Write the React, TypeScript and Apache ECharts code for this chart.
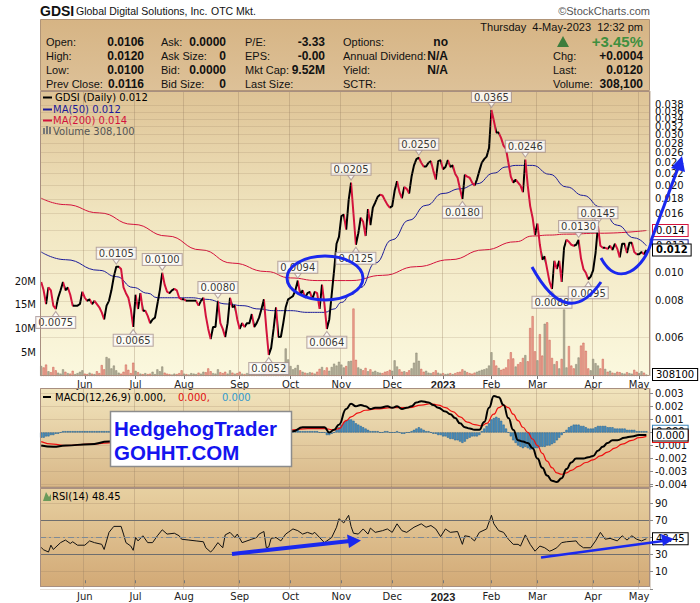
import React, { useEffect, useRef } from 'react';
import * as echarts from 'echarts';

// ---------- DATA ----------
const HOLIDAYS = ['2022-05-30', '2022-06-20', '2022-07-04', '2022-09-05', '2022-11-24', '2022-12-26', '2023-01-02', '2023-01-16', '2023-02-20', '2023-04-07'];
const MONTHS = ['Jan', 'Feb', 'Mar', 'Apr', 'May', 'Jun', 'Jul', 'Aug', 'Sep', 'Oct', 'Nov', 'Dec'];

const price = [
  0.0093, 0.0087, 0.0078, 0.0089, 0.0087, 0.0077, 0.0075, 0.0082, 0.0087, 0.0093,
  0.0087, 0.0089, 0.0084, 0.0077, 0.0077, 0.0077, 0.0078, 0.0086, 0.0082, 0.0080,
  0.0081, 0.0078, 0.0080, 0.0078, 0.0076, 0.0073, 0.0069, 0.0077, 0.0080, 0.0087,
  0.0097, 0.0105, 0.0105, 0.0103, 0.0089, 0.0085, 0.0082, 0.0075, 0.0065, 0.0084,
  0.0075, 0.0085, 0.0074, 0.0074, 0.0071, 0.0067, 0.0069, 0.0070, 0.0078, 0.0087,
  0.0100, 0.0091, 0.0086, 0.0085, 0.0087, 0.0088, 0.0087, 0.0082, 0.0081, 0.0081,
  0.0080, 0.0080, 0.0080, 0.0080, 0.0080, 0.0077, 0.0080, 0.0082, 0.0071, 0.0064,
  0.0059, 0.0065, 0.0065, 0.0080, 0.0067, 0.0064, 0.0060, 0.0067, 0.0082, 0.0076,
  0.0077, 0.0069, 0.0064, 0.0067, 0.0065, 0.0067, 0.0067, 0.0072, 0.0065, 0.0067,
  0.0070, 0.0075, 0.0081, 0.0064, 0.0052, 0.0055, 0.0064, 0.0076, 0.0060, 0.0060,
  0.0067, 0.0076, 0.0081, 0.0082, 0.0083, 0.0087, 0.0094, 0.0084, 0.0087, 0.0082,
  0.0085, 0.0086, 0.0081, 0.0086, 0.0085, 0.0075, 0.0091, 0.0078, 0.0064, 0.0069,
  0.0084, 0.0102, 0.0126, 0.0133, 0.0157, 0.0159, 0.0141, 0.0178, 0.0205, 0.0160,
  0.0125, 0.0137, 0.0155, 0.0150, 0.0134, 0.0166, 0.0146, 0.0168, 0.0175, 0.0183,
  0.0186, 0.0185, 0.0178, 0.0172, 0.0168, 0.0170, 0.0192, 0.0207, 0.0190, 0.0181,
  0.0198, 0.0195, 0.0188, 0.0215, 0.0235, 0.0247, 0.0250, 0.0240, 0.0233, 0.0233,
  0.0240, 0.0243, 0.0225, 0.0210, 0.0243, 0.0245, 0.0228, 0.0232, 0.0245, 0.0232,
  0.0235, 0.0220, 0.0213, 0.0195, 0.0180, 0.0218, 0.0215, 0.0213, 0.0205, 0.0200,
  0.0210, 0.0225, 0.0240, 0.0247, 0.0252, 0.0270, 0.0365, 0.0335, 0.0305, 0.0305,
  0.0292, 0.0275, 0.0268, 0.0240, 0.0215, 0.0205, 0.0210, 0.0205, 0.0200, 0.0190,
  0.0246, 0.0200, 0.0170, 0.0155, 0.0135, 0.0148, 0.0125, 0.0111, 0.0114, 0.0103,
  0.0093, 0.0088, 0.0110, 0.0103, 0.0110, 0.0093, 0.0122, 0.0130, 0.0128, 0.0125,
  0.0124, 0.0125, 0.0130, 0.0112, 0.0103, 0.0100, 0.0095, 0.0097, 0.0102, 0.0117,
  0.0145, 0.0124, 0.0122, 0.0122, 0.0121, 0.0124, 0.0120, 0.0126, 0.0121, 0.0113,
  0.0126, 0.0126, 0.0117, 0.0127, 0.0127, 0.0118, 0.0116, 0.0116, 0.0118, 0.0116, 0.0120,
];

// volume in millions of shares
const volumeM = [
  2.1, 1.8, 2.4, 1.0, 0.8, 1.9, 1.2, 0.7, 0.5, 1.4,
  0.9, 0.6, 0.5, 1.1, 0.4, 0.6, 0.9, 1.2, 0.5, 0.4,
  0.7, 0.5, 0.4, 1.0, 0.6, 2.3, 1.4, 4.0, 3.7, 1.6,
  2.2, 1.2, 0.7, 0.5, 0.9, 2.4, 1.3, 0.6, 2.8, 1.1,
  0.8, 0.5, 0.4, 0.6, 0.4, 0.5, 0.9, 0.4, 1.4, 1.0,
  2.0, 0.7, 0.5, 0.4, 0.3, 0.5, 0.4, 0.6, 1.2, 0.5,
  0.4, 0.3, 0.6, 0.5, 0.4, 0.7, 0.5, 0.9, 0.8, 1.6,
  1.0, 0.6, 0.5, 1.4, 0.8, 0.6, 0.9, 0.5, 1.2, 0.7,
  0.5, 0.6, 0.9, 0.5, 0.4, 0.6, 0.5, 1.0, 0.5, 0.4,
  0.6, 0.8, 1.5, 1.0, 1.9, 1.2, 0.8, 1.6, 0.9, 0.7,
  1.1, 5.8, 3.5, 2.1, 1.4, 1.7, 2.3, 1.2, 0.9, 0.7,
  0.6, 0.8, 0.7, 0.5, 0.9, 1.5, 1.9, 1.2, 1.8, 1.1,
  1.9, 2.6, 2.2, 3.0, 2.4, 1.8, 2.1, 3.1, 3.2, 14.2,
  3.4, 1.8, 1.5, 1.2, 1.7, 1.0, 1.4, 0.9, 1.1, 0.8,
  0.7, 0.6, 0.9, 1.0, 1.3, 1.1, 3.3, 2.0, 1.4, 0.9,
  1.0, 0.8, 1.2, 1.6, 2.8, 4.9, 3.2, 1.5, 0.9, 1.1,
  0.7, 0.6, 0.8, 1.2, 0.7, 0.5, 0.6, 0.4, 0.5, 0.6,
  0.4, 0.6, 0.8, 0.9, 1.4, 1.1, 0.8, 0.6, 0.5, 0.7,
  0.9, 1.1, 1.3, 1.4, 1.6, 2.2, 5.0, 3.3, 2.2, 1.7,
  1.3, 1.5, 1.8, 3.5, 5.0, 3.7, 2.0, 2.5, 2.9, 3.8,
  4.4, 3.1, 10.1, 12.6, 5.2, 3.3, 8.8, 4.3, 11.0, 11.3,
  7.6, 3.8, 2.5, 3.1, 1.6, 3.6, 14.0, 1.8, 6.3, 2.2,
  1.6, 2.5, 3.9, 6.4, 7.0, 5.3, 1.6, 1.2, 3.6, 2.7,
  2.2, 1.6, 3.6, 1.5, 0.9, 1.1, 0.7, 0.6, 0.9, 0.8,
  0.6, 0.5, 0.8, 0.6, 0.5, 1.3, 0.9, 0.6, 1.0, 0.7, 0.3081,
];

// moving averages, read at [trading-day index, value]
const ma50 = [
  [0, 0.0118], [10, 0.0111], [24, 0.0102], [31, 0.0097], [38, 0.0089], [44, 0.0085], [48, 0.0082],
  [55, 0.0082], [62, 0.0082], [68, 0.0081], [77, 0.0078], [83, 0.0077], [90, 0.0075], [96, 0.0074],
  [103, 0.0074], [110, 0.0073], [117, 0.0073], [121, 0.0075], [124, 0.0079], [128, 0.0084],
  [132, 0.0089], [138, 0.0108], [145, 0.0130], [152, 0.0152], [159, 0.0171], [166, 0.0188],
  [173, 0.0195], [180, 0.0203], [187, 0.0221], [192, 0.0232], [196, 0.0235], [203, 0.0235],
  [210, 0.0219], [217, 0.0198], [224, 0.0185], [231, 0.0169], [238, 0.0146], [245, 0.0132], [250, 0.0124],
];
const ma200 = [
  [0, 0.0181], [10, 0.0172], [24, 0.0161], [38, 0.0147], [52, 0.0134], [66, 0.0120], [79, 0.0108],
  [93, 0.0101], [103, 0.0096], [114, 0.0094], [128, 0.0094], [141, 0.0098], [155, 0.0105],
  [169, 0.0111], [183, 0.0120], [196, 0.0128], [203, 0.0134], [210, 0.0135], [217, 0.0136],
  [231, 0.0137], [250, 0.0140],
];

const macdLine = [
  [0, -0.0010], [5, -0.0011], [10, -0.0010], [20, -0.0009], [28, -0.0007], [40, -0.0002], [55, 0.0001],
  [70, -0.0002], [85, -0.0001], [95, -0.0003], [104, 0.0001], [108, 0.0004], [113, 0.0004], [117, 0.0004],
  [119, 0.0000], [121, 0.0002], [123, 0.0006], [126, 0.0018], [128, 0.0022], [130, 0.0020], [132, 0.0021],
  [134, 0.0020], [136, 0.0018], [138, 0.0019], [140, 0.0019], [143, 0.0020], [145, 0.0019], [147, 0.0020],
  [149, 0.0018], [151, 0.0019], [153, 0.0020], [155, 0.0023], [157, 0.0024], [160, 0.0023], [162, 0.0021],
  [164, 0.0019], [167, 0.0016], [169, 0.0014], [171, 0.0011], [173, 0.0007], [175, 0.0004], [177, 0.0003],
  [179, 0.0002], [181, 0.0002], [183, 0.0008], [185, 0.0019], [187, 0.0028], [189, 0.0027], [191, 0.0021],
  [193, 0.0011], [195, 0.0002], [197, -0.0006], [199, -0.0007], [201, -0.0008], [203, -0.0012],
  [205, -0.0020], [207, -0.0027], [209, -0.0033], [211, -0.0037], [213, -0.0038], [215, -0.0035],
  [217, -0.0028], [219, -0.0023], [221, -0.0020], [224, -0.0020], [226, -0.0019], [228, -0.0018],
  [230, -0.0014], [232, -0.0011], [234, -0.0008], [236, -0.0006], [238, -0.0006], [241, -0.0004],
  [244, -0.0003], [247, -0.0002], [250, -0.0002],
];
const signalLine = [
  [0, -0.0007], [5, -0.0009], [10, -0.0010], [20, -0.0009], [28, -0.0008], [40, -0.0004], [55, 0.0000],
  [70, -0.0001], [85, -0.0001], [95, -0.0002], [104, 0.0002], [110, 0.0003], [117, 0.0003], [121, 0.0002],
  [123, 0.0003], [126, 0.0009], [128, 0.0012], [131, 0.0015], [134, 0.0017], [138, 0.0018], [145, 0.0019],
  [152, 0.0019], [157, 0.0021], [161, 0.0022], [164, 0.0021], [167, 0.0019], [170, 0.0016], [173, 0.0012],
  [176, 0.0008], [179, 0.0006], [182, 0.0005], [184, 0.0007], [187, 0.0014], [189, 0.0019], [191, 0.0021],
  [193, 0.0019], [195, 0.0014], [197, 0.0009], [199, 0.0004], [201, 0.0000], [203, -0.0005], [205, -0.0010],
  [207, -0.0016], [209, -0.0022], [211, -0.0027], [213, -0.0031], [215, -0.0032], [217, -0.0031],
  [219, -0.0029], [222, -0.0026], [225, -0.0023], [228, -0.0021], [231, -0.0018], [234, -0.0015],
  [237, -0.0012], [240, -0.0009], [244, -0.0006], [247, -0.0004], [250, -0.0003],
];
const macdHist = [
  -0.0004, -0.0004, -0.0003, -0.0003, -0.0002, -0.0002, -0.0001, -0.0001, 0.0000, 0.0001,
  0.0001, 0.0001, 0.0001, 0.0001, 0.0001, 0.0001, 0.0001, 0.0001, 0.0001, 0.0001,
  0.0001, 0.0001, 0.0001, 0.0001, 0.0001, 0.0001, 0.0001, 0.0001, 0.0001, 0.0001,
  0.0002, 0.0003, 0.0003, 0.0002, 0.0001, 0.0001, 0.0000, -0.0001, -0.0002, -0.0001,
  0.0000, 0.0000, -0.0001, -0.0001, 0.0000, 0.0001, 0.0001, 0.0002, 0.0002, 0.0003,
  0.0003, 0.0003, 0.0002, 0.0001, 0.0001, 0.0000, 0.0000, 0.0000, -0.0001, -0.0001,
  -0.0001, -0.0001, -0.0001, -0.0001, -0.0001, -0.0001, -0.0001, -0.0001, -0.0002, -0.0002,
  -0.0002, -0.0002, -0.0001, -0.0001, -0.0001, -0.0001, -0.0001, 0.0000, 0.0000, 0.0000,
  0.0000, -0.0001, -0.0001, -0.0001, -0.0001, 0.0000, 0.0000, 0.0000, 0.0000, 0.0000,
  0.0000, 0.0000, 0.0000, -0.0001, -0.0002, -0.0002, -0.0001, -0.0001, -0.0001, 0.0000,
  0.0000, 0.0001, 0.0001, 0.0001, 0.0001, 0.0001, 0.0002, 0.0001, 0.0001, 0.0001,
  0.0001, 0.0001, 0.0001, 0.0001, 0.0001, 0.0000, 0.0000, 0.0000, -0.0002, -0.0002,
  -0.0001, 0.0000, 0.0002, 0.0004, 0.0006, 0.0008, 0.0009, 0.0010, 0.0010, 0.0009,
  0.0007, 0.0006, 0.0005, 0.0004, 0.0003, 0.0002, 0.0001, 0.0001, 0.0001, 0.0001,
  0.0000, 0.0000, 0.0001, 0.0001, 0.0000, 0.0000, 0.0000, 0.0001, 0.0000, -0.0001,
  -0.0001, 0.0000, 0.0000, 0.0001, 0.0002, 0.0003, 0.0004, 0.0003, 0.0002, 0.0001,
  0.0001, 0.0000, -0.0001, -0.0001, -0.0002, -0.0002, -0.0003, -0.0003, -0.0004, -0.0005,
  -0.0005, -0.0006, -0.0006, -0.0007, -0.0008, -0.0007, -0.0005, -0.0004, -0.0003, -0.0003,
  -0.0003, -0.0002, 0.0001, 0.0003, 0.0005, 0.0007, 0.0010, 0.0011, 0.0012, 0.0011,
  0.0009, 0.0006, 0.0003, 0.0000, -0.0003, -0.0006, -0.0008, -0.0010, -0.0011, -0.0012,
  -0.0011, -0.0012, -0.0013, -0.0013, -0.0012, -0.0012, -0.0011, -0.0011, -0.0011, -0.0010,
  -0.0010, -0.0009, -0.0008, -0.0006, -0.0004, -0.0002, 0.0000, 0.0002, 0.0004, 0.0005,
  0.0006, 0.0006, 0.0006, 0.0005, 0.0005, 0.0004, 0.0003, 0.0003, 0.0003, 0.0004,
  0.0005, 0.0005, 0.0005, 0.0005, 0.0004, 0.0004, 0.0004, 0.0003, 0.0003, 0.0003,
  0.0003, 0.0003, 0.0002, 0.0002, 0.0002, 0.0002, 0.0001, 0.0001, 0.0001, 0.0001, 0.0001,
];

const rsi = [
  [0, 38.3], [1, 35.6], [3, 33], [4, 41], [5, 36], [8, 44], [10, 47], [12, 43], [13, 45], [15, 41],
  [18, 41], [20, 46], [22, 44], [25, 42], [26, 36], [28, 56], [30, 63], [33, 63], [34, 54], [35, 44],
  [37, 40], [38, 35], [39, 50], [40, 46], [42, 52], [44, 44], [46, 44], [48, 52], [50, 59], [52, 54],
  [55, 55], [57, 52], [58, 48], [61, 47], [64, 46], [67, 45], [68, 38], [70, 33], [71, 36], [73, 44],
  [75, 38], [76, 53], [78, 56], [80, 50], [81, 54], [83, 44], [85, 46], [87, 48], [89, 50], [90, 54],
  [92, 57], [93, 38], [94, 39], [95, 49], [97, 50], [99, 46], [101, 54], [102, 56], [104, 60], [106, 58],
  [108, 54], [110, 56], [112, 54], [113, 56], [115, 50], [117, 44], [118, 46], [120, 50], [122, 62],
  [123, 72], [125, 67], [127, 76], [128, 63], [129, 55], [131, 54], [133, 60], [135, 54], [136, 61],
  [138, 56], [141, 58], [143, 60], [145, 56], [147, 66], [149, 58], [151, 56], [154, 62], [157, 66],
  [159, 62], [161, 64], [163, 60], [165, 51], [167, 60], [169, 56], [172, 57], [174, 42], [175, 52],
  [177, 51], [179, 46], [181, 56], [184, 60], [186, 76], [187, 66], [189, 58], [191, 56], [193, 48],
  [195, 42], [197, 42], [198, 40], [200, 53], [202, 42], [204, 34], [206, 40], [208, 38], [210, 34],
  [211, 35], [213, 38], [215, 44], [217, 45], [221, 46], [222, 42], [224, 38], [227, 38], [229, 46],
  [231, 56], [233, 48], [235, 49], [238, 46], [240, 52], [242, 47], [244, 52], [246, 48], [248, 46], [250, 48.45],
];

// price-axis tick labels (0.014 and 0.012 are covered by the value tags)
const priceTicks = [0.038, 0.036, 0.034, 0.032, 0.030, 0.028, 0.026, 0.024, 0.022, 0.020, 0.018, 0.016, 0.014, 0.012, 0.010, 0.008, 0.006];
const hiddenTickLabels = [0.014, 0.012];
const peakIdx = [31, 50, 73, 106, 128, 156, 186, 200, 222, 230];
const troughIdx = [6, 38, 94, 118, 130, 174, 211, 226];

const headerRows = [
  [['Open:', '0.0106'], ['Ask:', '0.0000'], ['P/E:', '-3.33'], ['Options:', 'no'], ['', '']],
  [['High:', '0.0120'], ['Ask Size:', '0'], ['EPS:', '-0.00'], ['Annual Dividend:', 'N/A'], ['Chg:', '+0.0004']],
  [['Low:', '0.0100'], ['Bid:', '0.0000'], ['Mkt Cap:', '9.52M'], ['Yield:', 'N/A'], ['Last:', '0.0120']],
  [['Prev Close:', '0.0116'], ['Bid Size:', '0'], ['Last Size:', ''], ['SCTR:', ''], ['Volume:', '308,100']],
];

// ---------- helpers ----------
function buildDates() {
  const out: string[] = [];
  const d = new Date(Date.UTC(2022, 4, 5));
  const end = Date.UTC(2023, 4, 4);
  while (d.getTime() <= end) {
    const dow = d.getUTCDay();
    const s = d.toISOString().slice(0, 10);
    if (dow !== 0 && dow !== 6 && HOLIDAYS.indexOf(s) < 0) out.push(s);
    d.setUTCDate(d.getUTCDate() + 1);
  }
  return out;
}

const FONT = '"DejaVu Sans", Verdana, sans-serif';
const HFONT = '"Liberation Sans", Arial, sans-serif';
const BLUE = '#1a28ee';
const CLEAR = 'rgba(0,0,0,0)';

export default function App() {
  const ref = useRef<HTMLDivElement>(null);
  useEffect(() => {
    if (!ref.current) return;
    const chart = echarts.init(ref.current, null, { renderer: 'svg' });
    const dates = buildDates();
    const cats = dates.concat(['']);
    const isMonthStart = (i: number) =>
      i > 0 && !!cats[i] && !!cats[i - 1] && cats[i].slice(5, 7) !== cats[i - 1].slice(5, 7);
    const monthLabel = (v: string) => {
      if (!v) return '';
      const m = +v.slice(5, 7);
      return m === 1 ? '{y|' + v.slice(0, 4) + '}' : MONTHS[m - 1];
    };
    const last = price.length - 1;
    const up = (i: number) => i === 0 || price[i] >= price[i - 1];

    const pieces: any[] = [];
    for (let i = 1; i < price.length; i++) {
      pieces.push({ gt: i - 1, lte: i, color: up(i) ? '#000000' : '#d3123c' });
    }

    const gridLine = 'rgba(150,125,95,0.32)';
    const xBase = (gi: number, showLabel: boolean) => ({
      type: 'category',
      gridIndex: gi,
      data: cats,
      boundaryGap: true,
      axisLine: { show: false },
      axisTick: { show: showLabel, alignWithLabel: true, interval: (i: number) => isMonthStart(i), length: 3, lineStyle: { color: '#777' } },
      axisLabel: {
        show: showLabel,
        interval: (i: number) => isMonthStart(i),
        formatter: monthLabel,
        fontFamily: FONT,
        fontSize: 10,
        color: '#222',
        margin: 3,
        rich: { y: { fontWeight: 'bold', fontSize: 11, fontFamily: HFONT, color: '#222' } },
      },
      splitLine: { show: true, interval: (i: number) => isMonthStart(i), lineStyle: { color: gridLine, width: 1 } },
    });

    const tagLabel = (border: string, bold = false) => ({
      show: true,
      position: 'end',
      distance: 3,
      fontFamily: FONT,
      fontSize: 10,
      fontWeight: bold ? 'bold' : 'normal',
      color: '#000',
      backgroundColor: '#fff',
      borderColor: border,
      borderWidth: 1,
      padding: [1, 3, 0, 3],
    });
    const tag = (value: number, border: string, fmt: (v: number) => string, bold = false) => ({
      yAxis: value,
      lineStyle: { color: CLEAR, width: 0 },
      label: Object.assign(tagLabel(border, bold), { formatter: (p: any) => fmt(p.value) }),
    });

    const priceMarks: any[] = priceTicks.map((v) => ({
      yAxis: v,
      lineStyle: { color: 'rgba(150,125,95,0.2)', width: 1, type: 'solid' },
      label: {
        show: hiddenTickLabels.indexOf(v) < 0, position: 'end', distance: 5,
        formatter: (p: any) => p.value.toFixed(3), fontFamily: FONT, fontSize: 10, color: '#111',
      },
    }));

    const labelBox = {
      show: true,
      fontFamily: FONT,
      fontSize: 10,
      color: '#000',
      backgroundColor: '#fff',
      borderColor: '#a89494',
      borderWidth: 1,
      padding: [1, 2, 0, 2],
      formatter: (p: any) => p.value[1].toFixed(4),
    };

    const hdrTexts: any[] = [];
    const labX = [46, 161, 245, 343, 553];
    const valX = [144, 226, 325, 448, 643];
    const rowY = [41.5, 55.5, 69.5, 83.5];
    headerRows.forEach((row, r) => {
      row.forEach((cell, c) => {
        if (cell[0]) hdrTexts.push({ type: 'text', x: labX[c], y: rowY[r], style: { text: cell[0], font: '11px ' + HFONT, fill: '#111', textVerticalAlign: 'middle' }, z: 20 });
        if (cell[1]) hdrTexts.push({ type: 'text', x: valX[c], y: rowY[r], style: { text: cell[1], font: 'bold 12px ' + HFONT, fill: '#111', textAlign: 'right', textVerticalAlign: 'middle' }, z: 20 });
      });
    });

    const txt = (text: string, x: number, y: number, fill: string, font: string, align = 'left', z = 20) => ({
      type: 'text', x, y, z, style: { text, fill, font, textAlign: align, textVerticalAlign: 'middle' },
    });
    const arrowHead = (pts: number[][], z = 60) => ({ type: 'polygon', z, shape: { points: pts }, style: { fill: BLUE } });

    const graphic: any[] = [
      // title row
      txt('GDSI', 40, 11, '#111', 'bold 14px ' + HFONT),
      txt('Global Digital Solutions, Inc.', 76, 11, '#111', '10.5px ' + HFONT),
      txt('OTC Mkt.', 211, 11, '#111', '10.5px ' + HFONT),
      txt('\u00A9StockCharts.com', 650, 11, '#555', '11px ' + HFONT, 'right'),
      // header box
      {
        type: 'rect', z: 1, shape: { x: 40.5, y: 19.5, width: 609, height: 71 },
        style: { fill: { type: 'linear', x: 0, y: 0, x2: 0, y2: 1, colorStops: [{ offset: 0, color: '#d6b484' }, { offset: 1, color: '#ddc198' }] }, stroke: '#b09478', lineWidth: 1 },
      },
      txt('Thursday  4-May-2023  12:32 pm', 643, 27, '#111', '11px ' + HFONT, 'right'),
      { type: 'polygon', z: 20, shape: { points: [[563, 36], [557, 47], [569, 47]] }, style: { fill: '#3d7d3d' } },
      txt('+3.45%', 643, 41.5, '#3f8f3f', 'bold 15px ' + HFONT, 'right'),
      ...hdrTexts,
      // panel backgrounds
      {
        type: 'rect', z: -5, shape: { x: 40, y: 91, width: 610, height: 285 },
        style: { fill: { type: 'linear', x: 0, y: 0, x2: 0, y2: 1, colorStops: [{ offset: 0, color: '#dec395' }, { offset: 0.45, color: '#f1e6c1' }, { offset: 1, color: '#fbf8de' }] } },
      },
      {
        type: 'rect', z: -5, shape: { x: 40, y: 388, width: 610, height: 100 },
        style: { fill: { type: 'linear', x: 0, y: 0, x2: 0, y2: 1, colorStops: [{ offset: 0, color: '#f1e4bd' }, { offset: 1, color: '#d8b787' }] } },
      },
      {
        type: 'rect', z: -5, shape: { x: 40, y: 488, width: 610, height: 99 },
        style: { fill: { type: 'linear', x: 0, y: 0, x2: 0, y2: 1, colorStops: [{ offset: 0, color: '#e7d0a1' }, { offset: 1, color: '#d2a976' }] } },
      },
      // panel borders
      { type: 'rect', z: 30, shape: { x: 40.5, y: 91.5, width: 609, height: 284 }, style: { fill: 'none', stroke: '#a88f80', lineWidth: 1 } },
      { type: 'rect', z: 30, shape: { x: 40.5, y: 388.5, width: 609, height: 99 }, style: { fill: 'none', stroke: '#a88f80', lineWidth: 1 } },
      { type: 'rect', z: 30, shape: { x: 40.5, y: 488.5, width: 609, height: 98 }, style: { fill: 'none', stroke: '#a88f80', lineWidth: 1 } },
      // main legend
      { type: 'rect', z: 30, shape: { x: 43, y: 96.5, width: 9, height: 2 }, style: { fill: '#000' } },
      txt('GDSI (Daily) 0.012', 55, 97.5, '#000', '10px ' + FONT, 'left', 30),
      { type: 'rect', z: 30, shape: { x: 43, y: 108.5, width: 9, height: 2 }, style: { fill: '#1b1b99' } },
      txt('MA(50) 0.012', 53, 109.5, '#1b1b99', '10px ' + FONT, 'left', 30),
      { type: 'rect', z: 30, shape: { x: 43, y: 119.5, width: 9, height: 2 }, style: { fill: '#d3123c' } },
      txt('MA(200) 0.014', 53, 120.5, '#d3123c', '10px ' + FONT, 'left', 30),
      { type: 'rect', z: 30, shape: { x: 43, y: 128, width: 2, height: 6 }, style: { fill: '#777' } },
      { type: 'rect', z: 30, shape: { x: 46, y: 126, width: 2, height: 8 }, style: { fill: '#777' } },
      { type: 'rect', z: 30, shape: { x: 49, y: 127, width: 2, height: 7 }, style: { fill: '#777' } },
      txt('Volume 308,100', 53, 131, '#555', '10px ' + FONT, 'left', 30),
      // MACD legend
      { type: 'rect', z: 30, shape: { x: 43, y: 396, width: 8, height: 2 }, style: { fill: '#000' } },
      txt('MACD(12,26,9) 0.000,', 55, 397, '#000', '10px ' + FONT, 'left', 30),
      txt('0.000,', 178, 397, '#e01010', '10px ' + FONT, 'left', 30),
      txt('0.000', 222, 397, '#3399cc', '10px ' + FONT, 'left', 30),
      // RSI legend
      { type: 'polygon', z: 30, shape: { points: [[43, 501], [46, 492], [49, 497], [51, 494], [51, 501]] }, style: { fill: '#6a9a5a' } },
      txt('RSI(14) 48.45', 52, 496, '#000', '10px ' + FONT, 'left', 30),
      // HedgehogTrader box
      { type: 'rect', z: 50, shape: { x: 110.5, y: 411.5, width: 181, height: 55 }, style: { fill: '#fff', stroke: '#8c8c8c', lineWidth: 1.5 } },
      txt('HedgehogTrader', 114, 428, '#1414f0', 'bold 20.5px ' + HFONT, 'left', 51),
      txt('GOHHT.COM', 114, 452.5, '#1414f0', 'bold 20.5px ' + HFONT, 'left', 51),
      // hand-drawn annotations
      { type: 'ellipse', z: 60, shape: { cx: 325, cy: 278, rx: 38, ry: 22 }, style: { fill: 'none', stroke: BLUE, lineWidth: 3 } },
      { type: 'bezierCurve', z: 60, shape: { x1: 532, y1: 267, x2: 601, y2: 282, cpx1: 567, cpy1: 331 }, style: { fill: 'none', stroke: BLUE, lineWidth: 3 } },
      { type: 'bezierCurve', z: 60, shape: { x1: 601, y1: 258, x2: 652, y2: 240, cpx1: 618, cpy1: 290, cpx2: 645, cpy2: 268 }, style: { fill: 'none', stroke: BLUE, lineWidth: 3 } },
      { type: 'line', z: 60, shape: { x1: 651, y1: 241, x2: 678, y2: 168 }, style: { stroke: BLUE, lineWidth: 3 } },
      arrowHead([[682, 156], [671, 168], [685, 172]]),
      { type: 'line', z: 60, shape: { x1: 232, y1: 554, x2: 350, y2: 541 }, style: { stroke: BLUE, lineWidth: 4 } },
      arrowHead([[361, 540.5], [347, 534.5], [349, 548]]),
      { type: 'line', z: 60, shape: { x1: 541, y1: 557.5, x2: 663, y2: 541 }, style: { stroke: BLUE, lineWidth: 2.5 } },
      arrowHead([[674, 539], [661, 534], [663, 546]]),
    ];

    const option: any = {
      animation: false,
      backgroundColor: '#ffffff',
      textStyle: { fontFamily: FONT },
      grid: [
        { left: 40, top: 91, width: 610, height: 285 },
        { left: 40, top: 388, width: 610, height: 100 },
        { left: 40, top: 486.2, width: 610, height: 102.6 },
      ],
      xAxis: [xBase(0, true), xBase(1, false), xBase(2, true)],
      yAxis: [
        { gridIndex: 0, type: 'log', min: 0.0044, max: 0.04247, position: 'right', axisLabel: { show: false }, axisTick: { show: false }, axisLine: { show: false }, splitLine: { show: false } },
        {
          gridIndex: 0, type: 'value', min: 0, max: 60, interval: 5, position: 'left',
          axisLine: { show: false }, axisTick: { show: false }, splitLine: { show: false },
          axisLabel: { formatter: (v: number) => (v > 0 && v <= 20 ? v + 'M' : ''), fontFamily: FONT, fontSize: 10, color: '#111', margin: 4 },
        },
        {
          gridIndex: 1, type: 'value', min: -0.004253, max: 0.003406, splitNumber: 8, minInterval: 0.001, maxInterval: 0.001, position: 'right',
          axisLine: { show: false }, axisTick: { show: true, length: 3, lineStyle: { color: '#888' } },
          splitLine: { show: true, lineStyle: { color: 'rgba(150,125,95,0.22)' } },
          axisLabel: {
            showMinLabel: false, showMaxLabel: false,
            formatter: (v: number) => (Math.abs(v) < 1e-7 ? '' : v.toFixed(3)),
            fontFamily: FONT, fontSize: 10, color: '#111', margin: 5,
          },
        },
        {
          gridIndex: 2, type: 'value', min: -10, max: 110, interval: 20, position: 'right',
          axisLine: { show: false }, axisTick: { show: true, length: 3, lineStyle: { color: '#888' } },
          splitLine: { show: true, lineStyle: { color: 'rgba(150,125,95,0.25)' } },
          axisLabel: { formatter: (v: number) => (v > 0 && v < 100 && v !== 50 ? String(v) : ''), fontFamily: FONT, fontSize: 10, color: '#111', margin: 5 },
        },
      ],
      visualMap: {
        show: false, type: 'piecewise', seriesIndex: 3, dimension: 0, pieces,
        outOfRange: { color: '#000' },
      },
      series: [
        {
          name: 'Volume', type: 'bar', xAxisIndex: 0, yAxisIndex: 1, barCategoryGap: '15%', z: 1,
          data: volumeM.map((v, i) => ({
            value: v,
            itemStyle: up(i) ? { color: '#b4af9b', borderColor: '#85806c', borderWidth: 0.5 } : { color: '#eda796', borderColor: '#c9584c', borderWidth: 0.5 },
          })),
          markLine: {
            silent: true, symbol: ['none', 'none'], precision: 6, z: 10,
            data: [tag(volumeM[last], '#000', (v) => String(Math.round(v * 1e6)))],
          },
        },
        {
          name: 'MA(200)', type: 'line', xAxisIndex: 0, yAxisIndex: 0, data: ma200, smooth: true, smoothMonotone: 'x', showSymbol: false, z: 2,
          lineStyle: { color: '#d3123c', width: 1 },
          markLine: { silent: true, symbol: ['none', 'none'], precision: 6, z: 10, data: [tag(ma200[ma200.length - 1][1], '#d3123c', (v) => v.toFixed(3))] },
        },
        {
          name: 'MA(50)', type: 'line', xAxisIndex: 0, yAxisIndex: 0, data: ma50, smooth: true, smoothMonotone: 'x', showSymbol: false, z: 2,
          lineStyle: { color: '#1b1b99', width: 1 },
          markLine: { silent: true, symbol: ['none', 'none'], precision: 6, z: 10, data: [tag(ma50[ma50.length - 1][1], '#1b1b99', (v) => v.toFixed(3))] },
        },
        {
          name: 'GDSI', type: 'line', xAxisIndex: 0, yAxisIndex: 0, data: price, showSymbol: false, z: 4,
          lineStyle: { width: 2 },
          markLine: {
            silent: true, symbol: ['none', 'none'], precision: 6, z: 11,
            data: priceMarks.concat([tag(price[last], '#000', (v) => v.toFixed(3), true)]),
          },
        },
        {
          name: 'peaks', type: 'scatter', xAxisIndex: 0, yAxisIndex: 0, z: 6, silent: true,
          symbol: 'triangle', symbolSize: [7, 5], symbolRotate: 180, symbolOffset: [0, -5],
          itemStyle: { color: '#fff', borderColor: '#a89494', borderWidth: 1 },
          data: peakIdx.map((i) => [i, price[i]]),
          label: Object.assign({ position: 'top', distance: 0 }, labelBox),
        },
        {
          name: 'troughs', type: 'scatter', xAxisIndex: 0, yAxisIndex: 0, z: 6, silent: true,
          symbol: 'triangle', symbolSize: [7, 5], symbolOffset: [0, 5],
          itemStyle: { color: '#fff', borderColor: '#a89494', borderWidth: 1 },
          data: troughIdx.map((i) => [i, price[i]]),
          label: Object.assign({ position: 'bottom', distance: 0 }, labelBox),
        },
        {
          name: 'Histogram', type: 'bar', xAxisIndex: 1, yAxisIndex: 2, barCategoryGap: '10%', z: 1,
          data: macdHist,
          itemStyle: { color: '#4b93c4', borderColor: '#1f5d8c', borderWidth: 0.5 },
          markLine: { silent: true, symbol: ['none', 'none'], precision: 6, z: 10, data: [tag(macdHist[last], '#3a84b8', (v) => Math.abs(v).toFixed(3))] },
        },
        {
          name: 'Signal', type: 'line', xAxisIndex: 1, yAxisIndex: 2, data: signalLine, smooth: true, smoothMonotone: 'x', showSymbol: false, z: 3,
          lineStyle: { color: '#ee1111', width: 1.2 },
          markLine: { silent: true, symbol: ['none', 'none'], precision: 6, z: 10, data: [tag(signalLine[signalLine.length - 1][1], '#ee1111', (v) => Math.abs(v).toFixed(3))] },
        },
        {
          name: 'MACD', type: 'line', xAxisIndex: 1, yAxisIndex: 2, data: macdLine, smooth: true, smoothMonotone: 'x', showSymbol: false, z: 4,
          lineStyle: { color: '#000', width: 2 },
          markLine: { silent: true, symbol: ['none', 'none'], precision: 6, z: 11, data: [tag(macdLine[macdLine.length - 1][1], '#000', (v) => Math.abs(v).toFixed(3))] },
        },
        {
          name: 'RSI', type: 'line', xAxisIndex: 2, yAxisIndex: 3, data: rsi, showSymbol: false, z: 3,
          lineStyle: { color: '#111', width: 1 },
          markLine: {
            silent: true, symbol: ['none', 'none'], precision: 4,
            data: [
              { yAxis: 70, lineStyle: { color: '#6e6e6e', width: 1.2, type: 'solid' }, label: { show: false } },
              { yAxis: 30, lineStyle: { color: '#6e6e6e', width: 1.2, type: 'solid' }, label: { show: false } },
              { yAxis: 50, lineStyle: { color: '#7d8a96', width: 1, type: [6, 3, 2, 3] }, label: { show: false } },
              tag(rsi[rsi.length - 1][1], '#000', (v) => v.toFixed(2)),
            ],
          },
        },
      ],
      graphic,
    };
    chart.setOption(option);
    return () => chart.dispose();
  }, []);
  return <div ref={ref} style={{ position: 'fixed', left: 0, top: 0, width: 700, height: 603, background: '#fff' }} />;
}
